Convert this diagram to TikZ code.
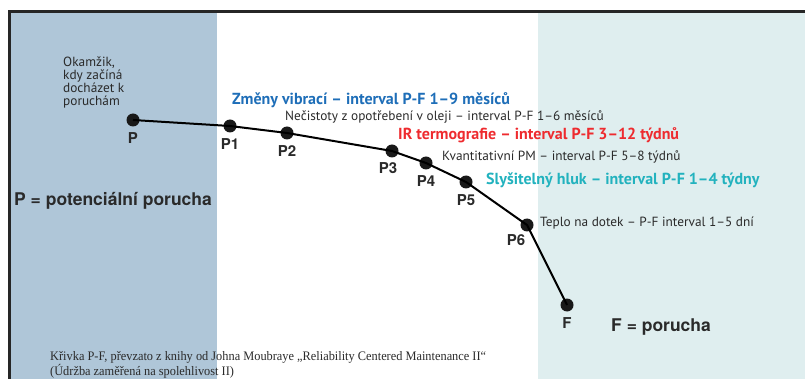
\documentclass[tikz,border=0pt]{standalone}
\usepackage{fontspec}
\setmainfont{PT Sans}
\newfontfamily\heros{TeX Gyre Heros}
\newfontfamily\capfont[FakeStretch=0.95]{Liberation Serif}
\usetikzlibrary{positioning}
\definecolor{panelblue}{HTML}{AFC6D8}
\definecolor{panelteal}{HTML}{DFEEEF}
\definecolor{vibblue}{HTML}{1E6EB8}
\definecolor{irred}{HTML}{EE2B2F}
\definecolor{hlukteal}{HTML}{22B2BE}
\definecolor{txtgray}{HTML}{2A2A2A}
\tikzset{
  dot/.style={circle, fill=black!90, inner sep=0pt, minimum size=13pt},
  ptlabel/.style={font=\heros\bfseries\fontsize{15}{15}\selectfont, text=txtgray},
  note/.style={anchor=west, inner sep=0pt, text=txtgray, font=\fontsize{13.3}{13.3}\selectfont},
  method/.style={anchor=west, inner sep=0pt, font=\bfseries\fontsize{16}{16}\selectfont},
  legend/.style={anchor=west, inner sep=0pt, text=txtgray, font=\heros\bfseries\fontsize{17.5}{17.5}\selectfont},
}
\begin{document}
\begin{tikzpicture}[x=1pt, y=-1pt]
    \useasboundingbox (0,0) rectangle (805,379);

    % background panels
    \fill[panelblue] (10,13) rectangle (217,379);
    \fill[panelteal] (538,13) rectangle (805,379);
    \draw[line width=3pt, black!85] (9,379) -- (9,12) -- (805,12);

    % points of the P-F curve
    \node[dot, label={[ptlabel, label distance=2pt]below:P}]  (P)  at (133,120) {};
    \node[dot, label={[ptlabel, label distance=2pt]below:P1}] (P1) at (230,126) {};
    \node[dot, label={[ptlabel, label distance=2pt]below:P2}] (P2) at (287,133) {};
    \node[dot, label={[ptlabel, label distance=1pt, xshift=-4pt]below:P3}] (P3) at (392,151) {};
    \node[dot, label={[ptlabel, label distance=2pt]below:P4}] (P4) at (426,163) {};
    \node[dot, label={[ptlabel, label distance=2pt]below:P5}] (P5) at (466,182) {};
    \node[dot, label={[ptlabel, label distance=-1pt, xshift=-11pt]below:P6}] (P6) at (527,225) {};
    \node[dot, label={[ptlabel, label distance=2pt]below:F}]  (F)  at (567,305) {};

    \draw[line width=2pt] (P.center) -- (P1.center) -- (P2.center) -- (P3.center)
        -- (P4.center) -- (P5.center) -- (P6.center) -- (F.center);

    % texts
    \node[note, align=left, anchor=north west] (start) at (63,57)
        {Okamžik,\\[-0.5pt] kdy začíná\\[-0.5pt] docházet k\\[-0.5pt] poruchám};
    \node[method, text=vibblue] (vib) at (232,100) {Změny vibrací – interval P-F 1–9 měsíců};
    \node[note] (olej) at (285,117) {Nečistoty z opotřebení v oleji – interval P-F 1–6 měsíců};
    \node[method, text=irred] (ir) at (398,135) {IR termografie – interval P-F 3–12 týdnů};
    \node[note] (pm) at (442,157) {Kvantitativní PM – interval P-F 5–8 týdnů};
    \node[method, text=hlukteal] (hluk) at (486,180) {Slyšitelný hluk – interval P-F 1–4 týdny};
    \node[note] (teplo) at (540,223) {Teplo na dotek – P-F interval 1–5 dní};

    \node[legend] (Pdef) at (14,201) {P = potenciální porucha};
    \node[legend] (Fdef) at (611,327) {F = porucha};

    \node[anchor=north west, inner sep=0pt, align=left, text=txtgray,
          font=\capfont\fontsize{13}{15}\selectfont] (src) at (50,351)
        {Křivka P-F, převzato z knihy od Johna Moubraye „Reliability Centered Maintenance II“\\
         (Údržba zaměřená na spolehlivost II)};

\end{tikzpicture}
\end{document}
